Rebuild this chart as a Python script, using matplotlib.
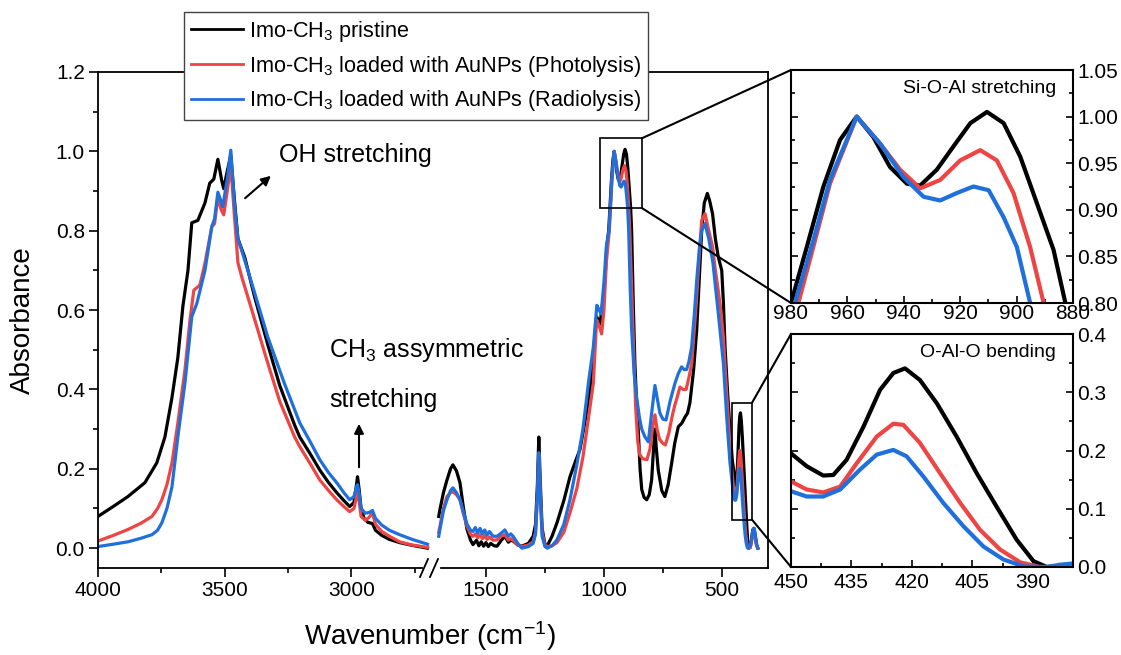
import numpy as np
import matplotlib
matplotlib.use('Agg')  # no display
import matplotlib.pyplot as plt
from matplotlib.lines import Line2D
from matplotlib.patches import Rectangle, ConnectionPatch
from matplotlib.ticker import MultipleLocator, FormatStrFormatter

plt.rcParams['font.family'] = ['Liberation Sans', 'DejaVu Sans']
plt.rcParams['mathtext.fontset'] = 'custom'
plt.rcParams['mathtext.rm'] = 'Liberation Sans'
plt.rcParams['mathtext.it'] = 'Liberation Sans:italic'
plt.rcParams['mathtext.bf'] = 'Liberation Sans:bold'

labels = ['Imo-CH$_3$ pristine',
          'Imo-CH$_3$ loaded with AuNPs (Photolysis)',
          'Imo-CH$_3$ loaded with AuNPs (Radiolysis)']
colors = ['#000000', '#ef4444', '#1f6fdc']

# ---- high wavenumber part (4000 - 2700 cm-1) ----
wn_hi_black = [4000, 3940, 3882, 3815, 3768, 3736, 3708, 3685, 3665, 3645, 3630, 3606, 3578, 3559,
               3543, 3527, 3512, 3504, 3490, 3476, 3462, 3448, 3421, 3382, 3331, 3283, 3224, 3204,
               3160, 3125, 3090, 3058, 3030, 3007, 2990, 2980, 2976, 2970, 2962, 2950, 2935, 2917,
               2905, 2880, 2850, 2810, 2760, 2700]
ab_hi_black = [0.08, 0.105, 0.13, 0.165, 0.215, 0.28, 0.38, 0.48, 0.61, 0.70, 0.82, 0.826, 0.87, 0.92,
               0.93, 0.98, 0.927, 0.906, 0.95, 0.99, 0.88, 0.78, 0.733, 0.633, 0.515, 0.41, 0.31, 0.28,
               0.235, 0.197, 0.165, 0.14, 0.12, 0.105, 0.115, 0.16, 0.18, 0.15, 0.10, 0.075, 0.065, 0.062,
               0.045, 0.032, 0.022, 0.014, 0.007, 0.0]

wn_hi_red = [4000, 3940, 3882, 3830, 3787, 3765, 3748, 3728, 3708, 3685, 3657, 3637, 3622, 3598, 3578,
             3551, 3540, 3527, 3515, 3504, 3490, 3476, 3462, 3448, 3433, 3393, 3330, 3283, 3224, 3204,
             3160, 3125, 3090, 3058, 3030, 3007, 2990, 2980, 2976, 2970, 2962, 2945, 2930, 2917, 2905,
             2880, 2850, 2810, 2760, 2700]
ab_hi_red = [0.018, 0.032, 0.047, 0.063, 0.08, 0.10, 0.122, 0.16, 0.215, 0.315, 0.449, 0.575, 0.65, 0.663,
             0.718, 0.81, 0.818, 0.885, 0.855, 0.84, 0.90, 0.965, 0.84, 0.72, 0.684, 0.60, 0.466, 0.37,
             0.28, 0.256, 0.21, 0.172, 0.145, 0.122, 0.105, 0.092, 0.10, 0.13, 0.142, 0.12, 0.08, 0.07,
             0.078, 0.089, 0.06, 0.042, 0.03, 0.016, 0.008, 0.002]

wn_hi_blue = [4000, 3940, 3882, 3830, 3787, 3765, 3748, 3728, 3708, 3685, 3657, 3630, 3610, 3578, 3551,
              3540, 3527, 3515, 3508, 3490, 3476, 3462, 3448, 3433, 3393, 3330, 3265, 3204, 3160, 3125,
              3090, 3058, 3030, 3007, 2990, 2980, 2976, 2970, 2962, 2945, 2930, 2917, 2905, 2880, 2850,
              2810, 2760, 2700]
ab_hi_blue = [0.004, 0.01, 0.016, 0.025, 0.034, 0.045, 0.064, 0.10, 0.155, 0.28, 0.416, 0.583, 0.617, 0.70,
              0.81, 0.83, 0.897, 0.875, 0.86, 0.93, 1.003, 0.87, 0.78, 0.75, 0.667, 0.532, 0.416, 0.316,
              0.265, 0.223, 0.19, 0.165, 0.14, 0.122, 0.13, 0.155, 0.16, 0.14, 0.10, 0.088, 0.09, 0.095,
              0.075, 0.058, 0.045, 0.034, 0.022, 0.01]

# ---- fingerprint part (1700 - 348 cm-1) ----
wn_lo_black = [1700, 1695, 1680, 1665, 1650, 1640, 1625, 1610, 1595, 1580, 1565, 1555, 1540, 1530, 1520,
               1510, 1500, 1490, 1480, 1465, 1453, 1435, 1420, 1405, 1395, 1385, 1365, 1348, 1320, 1300,
               1290, 1282, 1276, 1270, 1262, 1250, 1240, 1220, 1199, 1170, 1144, 1120, 1102, 1080, 1059,
               1045, 1031, 1017, 1005, 996, 988, 980, 974.4, 968.5, 962.6, 956.7, 950.8, 944.9, 938.9,
               934.2, 928.3, 922.4, 916.4, 910.5, 904.6, 898.7, 892.8, 886.9, 882.7, 876, 869, 862, 855,
               847, 840, 830, 819, 808, 798, 790, 784, 778, 770, 755, 742, 728, 713, 700, 685, 670, 657,
               646, 636, 620, 607, 596, 586, 575, 562, 552, 540, 528, 516, 501, 494, 487, 476, 466, 456,
               450, 446.1, 442, 439.5, 436.2, 432, 427.9, 424.6, 421.7, 418, 413.8, 408.9, 403.9, 399,
               394, 389.8, 386.5, 383.2, 380, 375, 370, 365, 360, 354, 348]
ab_lo_black = [0.08, 0.097, 0.14, 0.172, 0.20, 0.21, 0.195, 0.165, 0.10, 0.047, 0.02, 0.009, 0.02, 0.006,
               0.016, 0.005, 0.014, 0.004, 0.012, 0.006, 0.005, 0.02, 0.03, 0.015, 0.02, 0.018, 0.008,
               0.005, 0.012, 0.03, 0.06, 0.16, 0.28, 0.17, 0.05, 0.01, 0.006, 0.03, 0.064, 0.12, 0.18,
               0.22, 0.248, 0.32, 0.40, 0.49, 0.583, 0.565, 0.62, 0.675, 0.76, 0.80, 0.86, 0.925, 0.975,
               1.0, 0.978, 0.946, 0.928, 0.926, 0.943, 0.968, 0.993, 1.005, 0.993, 0.957, 0.907, 0.857,
               0.80, 0.62, 0.466, 0.37, 0.30, 0.20, 0.148, 0.128, 0.122, 0.135, 0.172, 0.25, 0.30, 0.25,
               0.197, 0.145, 0.13, 0.16, 0.215, 0.265, 0.306, 0.315, 0.33, 0.34, 0.366, 0.45, 0.55, 0.68,
               0.80, 0.87, 0.894, 0.875, 0.843, 0.78, 0.735, 0.70, 0.62, 0.506, 0.39, 0.298, 0.22, 0.195,
               0.173, 0.157, 0.158, 0.184, 0.241, 0.304, 0.333, 0.341, 0.321, 0.281, 0.224, 0.161, 0.104,
               0.047, 0.01, 0.0, 0.002, 0.004, 0.02, 0.045, 0.05, 0.035, 0.01, 0.0]

wn_lo_red = [1700, 1695, 1680, 1665, 1650, 1640, 1625, 1610, 1595, 1580, 1565, 1555, 1545, 1535, 1525,
             1515, 1505, 1495, 1485, 1470, 1453, 1435, 1420, 1405, 1395, 1385, 1365, 1348, 1320, 1300,
             1290, 1282, 1276, 1270, 1262, 1250, 1240, 1220, 1199, 1170, 1144, 1115, 1089, 1065, 1045,
             1031, 1020, 1010, 1000, 990, 977.4, 972.1, 966.2, 956.7, 948.4, 941.3, 934.2, 927.1, 920,
             912.9, 907, 901.1, 895.2, 890.4, 884, 877, 866, 857, 848, 835, 818, 805, 795, 784, 775, 765,
             752, 740, 725, 712, 700, 690, 678, 665, 652, 640, 628, 607, 595, 586, 572, 556, 540, 528,
             516, 505, 494, 480, 466, 456, 450, 446.1, 442, 437.8, 433.7, 428.7, 424.6, 422.1, 418, 413,
             408, 403.1, 398.1, 393.1, 388.2, 384, 380, 375, 370, 365, 360, 354, 348]
ab_lo_red = [0.04, 0.055, 0.10, 0.13, 0.14, 0.142, 0.135, 0.122, 0.085, 0.055, 0.035, 0.03, 0.036, 0.026,
             0.034, 0.024, 0.032, 0.022, 0.028, 0.02, 0.021, 0.03, 0.034, 0.02, 0.024, 0.02, 0.008, 0.004,
             0.008, 0.016, 0.04, 0.13, 0.24, 0.14, 0.04, 0.008, 0.004, 0.006, 0.014, 0.04, 0.089, 0.15,
             0.23, 0.33, 0.416, 0.575, 0.56, 0.54, 0.60, 0.72, 0.80, 0.86, 0.928, 1.0, 0.971, 0.943, 0.923,
             0.932, 0.953, 0.964, 0.953, 0.918, 0.86, 0.80, 0.68, 0.55, 0.36, 0.27, 0.235, 0.225, 0.223,
             0.25, 0.30, 0.336, 0.30, 0.275, 0.265, 0.26, 0.29, 0.33, 0.36, 0.38, 0.406, 0.40, 0.40, 0.43,
             0.466, 0.633, 0.75, 0.826, 0.843, 0.80, 0.76, 0.70, 0.65, 0.60, 0.532, 0.39, 0.256, 0.18,
             0.147, 0.133, 0.128, 0.138, 0.178, 0.224, 0.246, 0.244, 0.213, 0.161, 0.11, 0.064, 0.03,
             0.008, 0.0, 0.0, 0.001, 0.015, 0.04, 0.045, 0.03, 0.008, 0.0]

wn_lo_blue = [1700, 1695, 1680, 1665, 1650, 1640, 1625, 1610, 1595, 1580, 1565, 1555, 1545, 1535, 1525,
              1515, 1505, 1495, 1485, 1470, 1453, 1435, 1420, 1405, 1395, 1385, 1365, 1348, 1320, 1300,
              1290, 1282, 1276, 1270, 1262, 1250, 1240, 1220, 1199, 1170, 1144, 1115, 1089, 1065, 1045,
              1030, 1020, 1012, 1000, 990, 978.6, 972.1, 966.2, 956.7, 948.4, 940.1, 933, 927.1, 921.2,
              915.3, 909.9, 904.6, 899.9, 895.2, 889, 882.7, 872, 861.5, 850, 840, 826, 812, 800, 784, 775,
              763, 750, 737, 720, 699, 685, 671, 660, 650, 640, 628.6, 617, 607, 595, 586, 572, 556, 538,
              526, 515.6, 505, 494, 480, 466, 456, 450, 446.1, 442, 437.8, 432.9, 428.7, 424.6, 421.3,
              417.1, 412.2, 407.2, 402.2, 397.3, 392.3, 386.5, 383.2, 380, 375, 368, 363, 358, 352, 348]
ab_lo_blue = [0.03, 0.047, 0.095, 0.122, 0.145, 0.152, 0.14, 0.122, 0.09, 0.06, 0.045, 0.042, 0.052, 0.038,
              0.05, 0.036, 0.046, 0.033, 0.042, 0.03, 0.03, 0.038, 0.046, 0.03, 0.036, 0.03, 0.012, 0.0,
              0.004, 0.012, 0.035, 0.13, 0.24, 0.14, 0.03, 0.004, 0.0, 0.006, 0.021, 0.06, 0.122, 0.21,
              0.30, 0.42, 0.507, 0.612, 0.60, 0.59, 0.67, 0.76, 0.80, 0.867, 0.932, 1.0, 0.971, 0.935,
              0.914, 0.91, 0.918, 0.925, 0.921, 0.892, 0.86, 0.80, 0.66, 0.55, 0.44, 0.38, 0.33, 0.30,
              0.28, 0.268, 0.33, 0.41, 0.38, 0.34, 0.325, 0.323, 0.37, 0.416, 0.44, 0.457, 0.45, 0.45,
              0.47, 0.507, 0.59, 0.675, 0.76, 0.80, 0.818, 0.78, 0.718, 0.65, 0.592, 0.53, 0.466, 0.33,
              0.215, 0.16, 0.13, 0.121, 0.121, 0.133, 0.167, 0.193, 0.201, 0.19, 0.155, 0.11, 0.07, 0.035,
              0.013, 0.001, 0.0, 0.004, 0.006, 0.02, 0.048, 0.05, 0.03, 0.006, 0.0]

hi = [(wn_hi_black, ab_hi_black), (wn_hi_red, ab_hi_red), (wn_hi_blue, ab_hi_blue)]
lo = [(wn_lo_black, ab_lo_black), (wn_lo_red, ab_lo_red), (wn_lo_blue, ab_lo_blue)]

W, H = 1121, 655


def fx(px):
    return px / W


def fy(py):
    return 1 - py / H


fig = plt.figure(figsize=(W / 100, H / 100), dpi=100)

# broken main axes
top, bot, brk = 72, 568, 430
ax1 = fig.add_axes([fx(98), fy(bot), fx(brk - 98), (bot - top) / H])
ax2 = fig.add_axes([fx(brk), fy(bot), fx(768 - brk), (bot - top) / H])

for (x, y), c in zip(hi, colors):
    ax1.plot(x, y, color=c, lw=2.3)
for (x, y), c in zip(lo, colors):
    ax2.plot(x, y, color=c, lw=2.3)

ax1.set_xlim(4000, 2690)
ax2.set_xlim(1737, 305)
for ax in (ax1, ax2):
    ax.set_ylim(-0.05, 1.2)
    for s in ax.spines.values():
        s.set_linewidth(1.3)
    ax.tick_params(axis='both', which='major', direction='out', length=6.5, width=1.2,
                   labelsize=15, pad=3)
    ax.tick_params(axis='both', which='minor', direction='out', length=3.5, width=1.2)

ax1.spines['right'].set_visible(False)
ax2.spines['left'].set_visible(False)
ax1.spines['bottom'].set_bounds(4000, 2720)
ax2.spines['bottom'].set_bounds(1690, 305)
ax1.xaxis.set_major_locator(MultipleLocator(500))
ax1.xaxis.set_minor_locator(MultipleLocator(250))
ax2.xaxis.set_major_locator(MultipleLocator(500))
ax2.xaxis.set_minor_locator(MultipleLocator(250))
ax1.yaxis.set_major_locator(MultipleLocator(0.2))
ax1.yaxis.set_minor_locator(MultipleLocator(0.1))
ax1.yaxis.set_major_formatter(FormatStrFormatter('%.1f'))
ax2.tick_params(axis='y', which='both', left=False, labelleft=False)

# break marks
for dx in (-6, 4):
    fig.add_artist(Line2D([fx(brk + dx - 4), fx(brk + dx + 4)], [fy(bot + 9), fy(bot - 9)],
                          color='black', lw=1.3))

fig.text(fx(23), fy(320), 'Absorbance', rotation=90, ha='center', va='center', fontsize=20)
fig.text(fx(430), fy(645), 'Wavenumber (cm$^{\\mathrm{-}1}$)', ha='center', va='baseline', fontsize=20)

# annotations
fig.text(fx(279), fy(162), 'OH stretching', fontsize=18, va='baseline')
fig.text(fx(329), fy(357), 'CH$_3$ assymmetric', fontsize=18, va='baseline')
fig.text(fx(329), fy(407), 'stretching', fontsize=18, va='baseline')
fig.add_artist(matplotlib.patches.FancyArrowPatch((fx(243), fy(200)), (fx(273), fy(174)),
                                                  transform=fig.transFigure, arrowstyle='-|>',
                                                  mutation_scale=14, lw=1.5, color='black'))
fig.add_artist(matplotlib.patches.FancyArrowPatch((fx(359), fy(470)), (fx(359), fy(421)),
                                                  transform=fig.transFigure, arrowstyle='-|>',
                                                  mutation_scale=14, lw=1.5, color='black'))

# insets
axt = fig.add_axes([fx(791), fy(303), fx(1073 - 791), (303 - 70) / H])
axb = fig.add_axes([fx(791), fy(567), fx(1073 - 791), (567 - 334) / H])
for ax in (axt, axb):
    for (x, y), c in zip(lo, colors):
        ax.plot(x, y, color=c, lw=3, solid_joinstyle='round')
    for s in ax.spines.values():
        s.set_linewidth(1.5)
    ax.tick_params(axis='both', which='both', direction='in', left=True, right=True,
                   labelleft=False, labelright=True, labelsize=15, width=1.2)
    ax.tick_params(which='major', length=5)
    ax.tick_params(which='minor', length=3)

axt.set_xlim(980, 880)
axt.set_ylim(0.80, 1.05)
axt.xaxis.set_major_locator(MultipleLocator(20))
axt.xaxis.set_minor_locator(MultipleLocator(10))
axt.yaxis.set_major_locator(MultipleLocator(0.05))
axt.yaxis.set_minor_locator(MultipleLocator(0.025))
axt.yaxis.set_major_formatter(FormatStrFormatter('%.2f'))
axt.tick_params(axis='x', pad=1)
axt.tick_params(axis='y', pad=3)
axt.text(0.94, 0.92, 'Si-O-Al stretching', transform=axt.transAxes, ha='right', va='center',
         fontsize=14)

axb.set_xlim(450, 380)
axb.set_ylim(0, 0.4)
axb.xaxis.set_major_locator(MultipleLocator(15))
axb.xaxis.set_minor_locator(MultipleLocator(7.5))
axb.yaxis.set_major_locator(MultipleLocator(0.1))
axb.yaxis.set_minor_locator(MultipleLocator(0.05))
axb.yaxis.set_major_formatter(FormatStrFormatter('%.1f'))
axb.tick_params(axis='x', pad=4)
axb.tick_params(axis='y', pad=3)
axb.text(0.94, 0.92, 'O-Al-O bending', transform=axb.transAxes, ha='right', va='center',
         fontsize=14)

# zoom boxes and connectors
boxes = [((1017, 839), (0.857, 1.033), axt), ((458, 373), (0.072, 0.366), axb)]
for (x0, x1), (y0, y1), ins in boxes:
    ax2.add_patch(Rectangle((x1, y0), x0 - x1, y1 - y0, fill=False, ec='black', lw=1.2, zorder=5))
    for yy, ya in ((y1, 1), (y0, 0)):
        fig.add_artist(ConnectionPatch((x1, yy), (0, ya), coordsA=ax2.transData,
                                       coordsB=ins.transAxes, color='black', lw=1.5))

handles = [Line2D([], [], color=c, lw=2) for c in colors]
fig.legend(handles, labels, loc='upper left', bbox_to_anchor=(fx(184), fy(12)), fontsize=15.6,
           frameon=True, fancybox=False, edgecolor='#444444', framealpha=1, handlelength=2.4,
           handletextpad=0.3, borderpad=0.32, labelspacing=0.45, borderaxespad=0)

plt.savefig('out.png', dpi=100)
plt.close()
